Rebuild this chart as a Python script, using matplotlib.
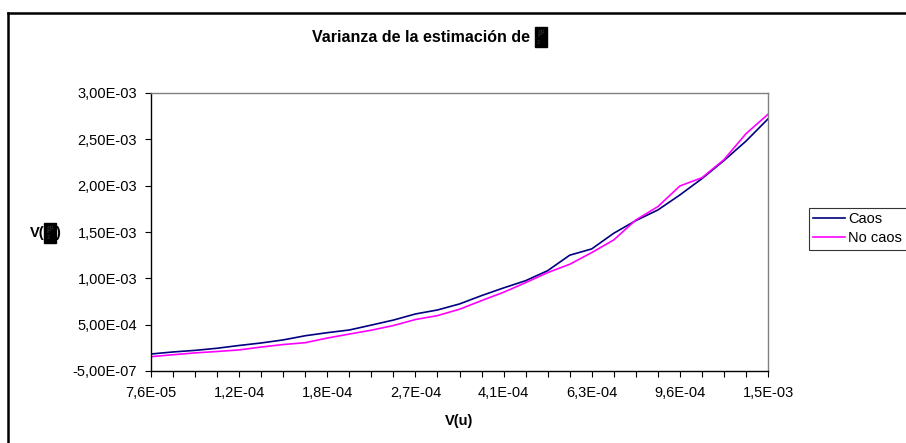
import matplotlib
matplotlib.use('Agg')
import matplotlib.pyplot as plt
from matplotlib.lines import Line2D

plt.rcParams['font.family'] = ['Liberation Sans', 'DejaVu Sans']

# ---- data ----
x_labels = ['7,6E-05', '8,4E-05', '9,4E-05', '1,0E-04', '1,2E-04', '1,3E-04', '1,4E-04',
            '1,6E-04', '1,8E-04', '2,0E-04', '2,2E-04', '2,4E-04', '2,7E-04', '3,0E-04',
            '3,3E-04', '3,7E-04', '4,1E-04', '4,6E-04', '5,1E-04', '5,7E-04', '6,3E-04',
            '7,0E-04', '7,8E-04', '8,6E-04', '9,6E-04', '1,1E-03', '1,2E-03', '1,3E-03',
            '1,5E-03']
caos = [1.83e-4, 2.05e-4, 2.22e-4, 2.45e-4, 2.75e-4, 3.02e-4, 3.35e-4, 3.80e-4,
        4.13e-4, 4.42e-4, 4.95e-4, 5.49e-4, 6.15e-4, 6.58e-4, 7.23e-4, 8.13e-4,
        8.96e-4, 9.74e-4, 1.082e-3, 1.249e-3, 1.317e-3, 1.486e-3, 1.622e-3, 1.737e-3,
        1.899e-3, 2.075e-3, 2.27e-3, 2.48e-3, 2.72e-3]
no_caos = [1.54e-4, 1.75e-4, 1.95e-4, 2.10e-4, 2.27e-4, 2.58e-4, 2.85e-4, 3.05e-4,
           3.55e-4, 3.98e-4, 4.40e-4, 4.90e-4, 5.55e-4, 5.97e-4, 6.66e-4, 7.59e-4,
           8.49e-4, 9.53e-4, 1.061e-3, 1.151e-3, 1.277e-3, 1.414e-3, 1.629e-3, 1.773e-3,
           1.996e-3, 2.085e-3, 2.28e-3, 2.56e-3, 2.77e-3]
y_ticks = [-5e-7, 4.995e-4, 9.995e-4, 1.4995e-3, 1.9995e-3, 2.4995e-3, 2.9995e-3]
y_tick_labels = ['-5,00E-07', '5,00E-04', '1,00E-03', '1,50E-03', '2,00E-03',
                 '2,50E-03', '3,00E-03']
series_names = ['Caos', 'No caos']
title_text = 'Varianza de la estimación de'
x_title = 'V(u)'
symbol_text = 'β¹\n₂'

# ---- figure ----
W, H = 906, 443
fig = plt.figure(figsize=(W / 100, H / 100), dpi=100)
ax = fig.add_axes([151 / W, (H - 371) / H, (768 - 151) / W, (371 - 93) / H])

xs = list(range(len(x_labels)))
l1, = ax.plot(xs, caos, color='#000080', lw=1.2, label=series_names[0])
l2, = ax.plot(xs, no_caos, color='#FF00FF', lw=1.2, label=series_names[1])

ax.set_xlim(0, len(x_labels) - 1)
ax.set_ylim(y_ticks[0], y_ticks[-1])
ax.set_xticks(xs)
ax.set_xticklabels([lab if i % 4 == 0 else '' for i, lab in enumerate(x_labels)])
ax.set_yticks(y_ticks)
ax.set_yticklabels(y_tick_labels)
ax.tick_params(axis='both', direction='out', length=4, width=0.8, color='black',
               labelsize=10.5, labelcolor='black')
ax.tick_params(axis='x', pad=7)
ax.tick_params(axis='y', pad=6)

for s in ['left', 'bottom']:
    ax.spines[s].set_color('black')
    ax.spines[s].set_linewidth(1.0)
for s in ['top', 'right']:
    ax.spines[s].set_color('#808080')
    ax.spines[s].set_linewidth(1.0)

# x-axis title
fig.text(459.5 / W, 1 - 421 / H, x_title, ha='center', va='center',
         fontsize=10.5, fontweight='bold')

box_style = dict(boxstyle='square,pad=0.25', facecolor='black', edgecolor='black')

# chart title with dark embedded-image box
t = fig.text(312 / W, 1 - 37 / H, title_text, ha='left', va='center',
             fontsize=11.5, fontweight='bold')
fig.canvas.draw()
ax.annotate(symbol_text, xy=(1, 0.5), xycoords=t, xytext=(5, 0),
            textcoords='offset points', ha='left', va='center', fontsize=6,
            linespacing=1.1, color='#3a3a3a', bbox=box_style)

# y-axis title "V( box )"
v1 = fig.text(30 / W, 1 - 233 / H, 'V(', ha='left', va='center',
              fontsize=10.5, fontweight='bold')
fig.canvas.draw()
bx = ax.annotate(symbol_text, xy=(1, 0.5), xycoords=v1, xytext=(1.2, 0),
                 textcoords='offset points', ha='left', va='center', fontsize=6,
                 linespacing=1.1, color='#3a3a3a', bbox=box_style)
fig.canvas.draw()
ax.annotate(')', xy=(1, 0.5), xycoords=bx, xytext=(1.0, 0), textcoords='offset points',
            ha='left', va='center', fontsize=10.5, fontweight='bold')

# legend
leg = fig.legend(handles=[l1, l2], loc='upper left',
                 bbox_to_anchor=(809 / W, 1 - 208 / H), frameon=True, fancybox=False,
                 edgecolor='black', fontsize=10.5, borderaxespad=0, borderpad=0.3,
                 handlelength=2.2, handletextpad=0.2, labelspacing=0.35)
leg.get_frame().set_linewidth(0.8)

# outer chart border
fig.add_artist(Line2D([8 / W, 8 / W], [0, 1 - 13 / H], color='black', lw=1.8,
                      transform=fig.transFigure))
fig.add_artist(Line2D([8 / W, 1], [1 - 13 / H, 1 - 13 / H], color='black', lw=1.8,
                      transform=fig.transFigure))

fig.savefig('out.png', dpi=100)
